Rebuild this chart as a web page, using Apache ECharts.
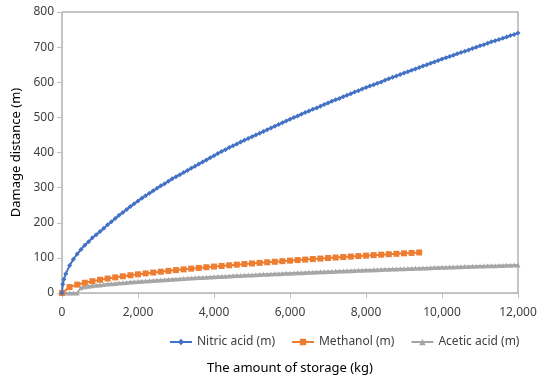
<!DOCTYPE html>
<html>
<head>
<meta charset="utf-8">
<script src="https://cdn.jsdelivr.net/npm/echarts@6/dist/echarts.min.js"></script>
<style>
html, body { margin: 0; padding: 0; background: #fff; }
#main { width: 542px; height: 379px; }
</style>
</head>
<body>
<div id="main"></div>
<script>
// storage amounts (kg)
var nitricKg = [0, 20, 50,
    100, 200, 300, 400, 500, 600, 700, 800, 900, 1000,
    1100, 1200, 1300, 1400, 1500, 1600, 1700, 1800, 1900, 2000,
    2100, 2200, 2300, 2400, 2500, 2600, 2700, 2800, 2900, 3000,
    3100, 3200, 3300, 3400, 3500, 3600, 3700, 3800, 3900, 4000,
    4100, 4200, 4300, 4400, 4500, 4600, 4700, 4800, 4900, 5000,
    5100, 5200, 5300, 5400, 5500, 5600, 5700, 5800, 5900, 6000,
    6100, 6200, 6300, 6400, 6500, 6600, 6700, 6800, 6900, 7000,
    7100, 7200, 7300, 7400, 7500, 7600, 7700, 7800, 7900, 8000,
    8100, 8200, 8300, 8400, 8500, 8600, 8700, 8800, 8900, 9000,
    9100, 9200, 9300, 9400, 9500, 9600, 9700, 9800, 9900, 10000,
    10100, 10200, 10300, 10400, 10500, 10600, 10700, 10800, 10900, 11000,
    11100, 11200, 11300, 11400, 11500, 11600, 11700, 11800, 11900, 12000];
var nitric = [0, 25, 39,
    55, 78, 96, 111, 124, 136, 146, 157, 166, 175,
    184, 194, 203, 212, 221, 229, 238, 246, 254, 262,
    270, 277, 284, 291, 298, 305, 311, 318, 325, 331,
    337, 343, 349, 355, 361, 367, 373, 379, 385, 391,
    397, 403, 408, 414, 419, 424, 430, 435, 440, 445,
    450, 455, 460, 465, 470, 475, 480, 485, 490, 495,
    500, 504, 509, 514, 518, 523, 527, 532, 537, 541,
    546, 550, 554, 559, 563, 567, 572, 576, 581, 585,
    589, 593, 597, 601, 606, 610, 614, 618, 622, 626,
    630, 634, 638, 642, 646, 650, 654, 658, 662, 666,
    670, 673, 677, 681, 685, 688, 692, 696, 700, 704,
    707, 711, 715, 718, 722, 725, 729, 733, 736, 740];

var methanolKg = [0, 200, 400, 600, 800, 1000, 1200, 1400, 1600, 1800, 2000,
    2200, 2400, 2600, 2800, 3000, 3200, 3400, 3600, 3800, 4000,
    4200, 4400, 4600, 4800, 5000, 5200, 5400, 5600, 5800, 6000,
    6200, 6400, 6600, 6800, 7000, 7200, 7400, 7600, 7800, 8000,
    8200, 8400, 8600, 8800, 9000, 9200, 9400];
var methanol = [0, 16.8, 23.8, 29.1, 33.7, 37.6, 41.2, 44.5, 47.6, 50.5, 53.2,
    55.8, 58.3, 60.7, 63.0, 65.2, 67.3, 69.4, 71.4, 73.4, 75.3,
    77.1, 78.9, 80.7, 82.4, 84.1, 85.8, 87.4, 89.0, 90.6, 92.2,
    93.7, 95.2, 96.7, 98.1, 99.6, 101.0, 102.4, 103.7, 105.1, 106.4,
    107.8, 109.1, 110.4, 111.6, 112.9, 114.1, 115.4];

var aceticKg = [0, 100, 200, 300, 400, 500, 600, 700, 800, 900, 1000,
    1100, 1200, 1300, 1400, 1500, 1600, 1700, 1800, 1900, 2000,
    2100, 2200, 2300, 2400, 2500, 2600, 2700, 2800, 2900, 3000,
    3100, 3200, 3300, 3400, 3500, 3600, 3700, 3800, 3900, 4000,
    4100, 4200, 4300, 4400, 4500, 4600, 4700, 4800, 4900, 5000,
    5100, 5200, 5300, 5400, 5500, 5600, 5700, 5800, 5900, 6000,
    6100, 6200, 6300, 6400, 6500, 6600, 6700, 6800, 6900, 7000,
    7100, 7200, 7300, 7400, 7500, 7600, 7700, 7800, 7900, 8000,
    8100, 8200, 8300, 8400, 8500, 8600, 8700, 8800, 8900, 9000,
    9100, 9200, 9300, 9400, 9500, 9600, 9700, 9800, 9900, 10000,
    10100, 10200, 10300, 10400, 10500, 10600, 10700, 10800, 10900, 11000,
    11100, 11200, 11300, 11400, 11500, 11600, 11700, 11800, 11900, 12000];
var acetic = [0, 0, 0, 0, 0, 15.0, 17.9, 19.3, 20.6, 21.9, 23.1,
    24.2, 25.3, 26.3, 27.3, 28.3, 29.2, 30.1, 31.0, 31.8, 32.6,
    33.5, 34.2, 35.0, 35.8, 36.5, 37.2, 37.9, 38.6, 39.3, 40.0,
    40.6, 41.3, 41.9, 42.6, 43.2, 43.8, 44.4, 45.0, 45.6, 46.2,
    46.7, 47.3, 47.9, 48.4, 49.0, 49.5, 50.0, 50.6, 51.1, 51.6,
    52.1, 52.6, 53.1, 53.6, 54.1, 54.6, 55.1, 55.6, 56.1, 56.5,
    57.0, 57.5, 57.9, 58.4, 58.9, 59.3, 59.8, 60.2, 60.6, 61.1,
    61.5, 61.9, 62.4, 62.8, 63.2, 63.6, 64.1, 64.5, 64.9, 65.3,
    65.7, 66.1, 66.5, 66.9, 67.3, 67.7, 68.1, 68.5, 68.9, 69.3,
    69.6, 70.0, 70.4, 70.8, 71.2, 71.5, 71.9, 72.3, 72.6, 73.0,
    73.4, 73.7, 74.1, 74.4, 74.8, 75.2, 75.5, 75.9, 76.2, 76.6,
    76.9, 77.3, 77.6, 77.9, 78.3, 78.6, 79.0, 79.3, 79.6, 80.0];

var seriesNames = ['Nitric acid (m)', 'Methanol (m)', 'Acetic acid (m)'];

function pairs(xs, ys){
    var out = [];
    for(var i = 0; i < xs.length; i ++){
        out.push([xs[i], ys[i]]);
    }
    return out;
}

var font = 'Noto Sans';
var labelColor = '#404040';

var myChart = echarts.init(document.getElementById('main'));
var option = {
    backgroundColor: '#fff',
    animation: false,
    textStyle: { fontFamily: font },
    grid: {
        left: 62, right: 24, top: 12, bottom: 86,
        outerBoundsMode: 'none',
        show: true,
        borderColor: '#8c8c8c',
        borderWidth: 1
    },
    legend: {
        data: seriesNames,
        left: 164,
        top: 331,
        itemWidth: 22,
        itemHeight: 8,
        itemGap: 16,
        textStyle: { fontFamily: font, fontSize: 12, color: labelColor }
    },
    xAxis: {
        type: 'value',
        min: 0,
        max: 12000,
        interval: 2000,
        name: 'The amount of storage (kg)',
        nameLocation: 'middle',
        nameGap: 69,
        nameTextStyle: { fontFamily: font, fontSize: 13, color: '#000' },
        axisLine: { lineStyle: { color: '#bfbfbf', width: 1 } },
        axisTick: { show: true, length: 5, lineStyle: { color: '#bfbfbf' } },
        axisLabel: {
            fontFamily: font, fontSize: 12, color: labelColor, margin: 14,
            formatter: function (v) { return v.toLocaleString('en-US'); }
        },
        splitLine: { show: false }
    },
    yAxis: {
        type: 'value',
        min: 0,
        max: 800,
        interval: 100,
        name: 'Damage distance (m)',
        nameLocation: 'middle',
        nameGap: 35,
        nameTextStyle: { fontFamily: font, fontSize: 13, color: '#000' },
        axisLine: { show: true, lineStyle: { color: '#bfbfbf', width: 1 } },
        axisTick: { show: true, length: 5, lineStyle: { color: '#bfbfbf' } },
        axisLabel: { fontFamily: font, fontSize: 12, color: labelColor, margin: 8 },
        splitLine: { show: false }
    },
    series: [{
        name: seriesNames[0],
        type: 'line',
        data: pairs(nitricKg, nitric),
        symbol: 'diamond',
        symbolSize: 5,
        showAllSymbol: true,
        itemStyle: { color: '#4472C4' },
        lineStyle: { color: '#4472C4', width: 2 },
        z: 4
    }, {
        name: seriesNames[1],
        type: 'line',
        data: pairs(methanolKg, methanol),
        symbol: 'rect',
        symbolSize: 6,
        showAllSymbol: true,
        itemStyle: { color: '#ED7D31' },
        lineStyle: { color: '#ED7D31', width: 2 },
        z: 3
    }, {
        name: seriesNames[2],
        type: 'line',
        data: pairs(aceticKg, acetic),
        symbol: 'triangle',
        symbolSize: 5,
        showAllSymbol: true,
        itemStyle: { color: '#A5A5A5' },
        lineStyle: { color: '#A5A5A5', width: 2 },
        z: 2
    }]
};
myChart.setOption(option);
</script>
</body>
</html>
